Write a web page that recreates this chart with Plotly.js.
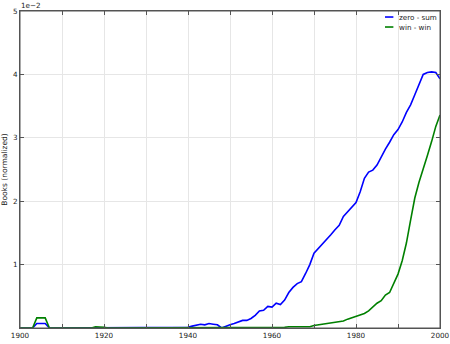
<!DOCTYPE html>
<html>
<head>
<meta charset="utf-8">
<script src="https://cdn.plot.ly/plotly-3.0.1.min.js"></script>
<style>html,body{margin:0;padding:0;background:#fff;}#chart{width:450px;height:344px;}</style>
</head>
<body>
<div id="chart"></div>
<script>
var years = [];
for (var y = 1900; y <= 2000; y++) years.push(y);

var seriesNames = ['zero - sum', 'win - win'];
var seriesColors = ['#0000ff', '#008000'];

// values in units of 1e-2
var zeroSum = [
  0, 0, 0, 0, 0.07, 0.07, 0.07, 0, 0, 0,            // 1900-1909
  0, 0.01, 0.01, 0.01, 0, 0, 0, 0, 0.01, 0.01,       // 1910-1919
  0.01, 0, 0, 0, 0, 0, 0, 0.01, 0.01, 0.01,          // 1920-1929
  0, 0, 0, 0, 0, 0, 0, 0.01, 0.01, 0.01,             // 1930-1939
  0.01, 0.03, 0.05, 0.06, 0.05, 0.07, 0.06, 0.05, 0.0, 0.03, // 1940-1949
  0.05, 0.07, 0.09, 0.12, 0.12, 0.15, 0.2, 0.27, 0.28, 0.34, // 1950-1959
  0.33, 0.39, 0.37, 0.44, 0.56, 0.64, 0.70, 0.73, 0.86, 1.0, // 1960-1969
  1.18, 1.25, 1.33, 1.40, 1.47, 1.55, 1.62, 1.76, 1.83, 1.90, // 1970-1979
  1.98, 2.15, 2.36, 2.46, 2.49, 2.57, 2.70, 2.82, 2.93, 3.05, // 1980-1989
  3.13, 3.25, 3.40, 3.52, 3.68, 3.84, 4.00, 4.03, 4.04, 4.03, // 1990-1999
  3.93                                                          // 2000
];

var winWin = [
  0, 0, 0, 0, 0.16, 0.16, 0.16, 0, 0, 0,             // 1900-1909
  0, 0, 0, 0, 0, 0, 0, 0, 0.02, 0.02,                // 1910-1919
  0.01, 0, 0, 0, 0, 0, 0, 0.01, 0.01, 0,             // 1920-1929
  0, 0, 0, 0, 0, 0, 0, 0, 0, 0,                      // 1930-1939
  0, 0, 0, 0, 0, 0, 0, 0, 0, 0,                      // 1940-1949
  0, 0, 0, 0, 0, 0, 0.01, 0.01, 0.01, 0.01,          // 1950-1959
  0.01, 0.01, 0.01, 0.01, 0.02, 0.02, 0.01, 0.01, 0.01, 0.02, // 1960-1969
  0.04, 0.05, 0.05, 0.06, 0.07, 0.08, 0.09, 0.11, 0.14, 0.16, // 1970-1979
  0.18, 0.20, 0.23, 0.27, 0.33, 0.39, 0.43, 0.52, 0.56, 0.70, // 1980-1989
  0.85, 1.06, 1.34, 1.70, 2.05, 2.30, 2.50, 2.72, 2.94, 3.18, // 1990-1999
  3.36                                                          // 2000
];

var xTickVals = [1900, 1910, 1920, 1930, 1940, 1950, 1960, 1970, 1980, 1990, 2000];
var xTickText = ['1900', '', '1920', '', '1940', '', '1960', '', '1980', '', '2000'];
var yTickVals = [1, 2, 3, 4, 5];
var yTickText = ['1', '2', '3', '4', '5'];

var traces = [
  {x: years, y: zeroSum, type: 'scatter', mode: 'lines', name: seriesNames[0],
   line: {color: seriesColors[0], width: 1.6}},
  {x: years, y: winWin, type: 'scatter', mode: 'lines', name: seriesNames[1],
   line: {color: seriesColors[1], width: 1.6}}
];

var font7 = {family: 'DejaVu Sans', size: 7.2, color: '#222'};
var fontTitle = {family: 'DejaVu Sans', size: 7.5, color: '#222'};

var axisCommon = {
  showline: true, linecolor: '#555', linewidth: 1, mirror: 'allticks',
  ticks: 'inside', ticklen: 4, tickcolor: '#555',
  gridcolor: '#e6e6e6', gridwidth: 1, zeroline: false,
  tickfont: font7, ticklabeloverflow: 'allow'
};

// legend drawn as key lines + labels (matplotlib-style compact legend)
var legendShapes = [];
var legendAnns = [];
var legY = [0.981, 0.9495];
for (var i = 0; i < seriesNames.length; i++) {
  legendShapes.push({type: 'line', xref: 'paper', yref: 'paper',
    x0: 0.869, x1: 0.889, y0: legY[i], y1: legY[i],
    line: {color: seriesColors[i], width: 1.6}});
  legendAnns.push({text: seriesNames[i], xref: 'paper', yref: 'paper',
    x: 0.9, y: legY[i], xanchor: 'left', yanchor: 'middle',
    showarrow: false, font: font7, borderpad: 0});
}

var layout = {
  width: 450, height: 344,
  margin: {l: 20, r: 10, t: 11, b: 16},
  paper_bgcolor: '#fff', plot_bgcolor: '#fff',
  showlegend: false,
  xaxis: Object.assign({}, axisCommon, {range: [1900, 2000], tickmode: 'array',
    tickvals: xTickVals, ticktext: xTickText}),
  yaxis: Object.assign({}, axisCommon, {range: [0, 5], tickmode: 'array',
    tickvals: yTickVals, ticktext: yTickText,
    title: {text: 'Books (normalized)', standoff: 5, font: fontTitle}}),
  shapes: [
    {type: 'rect', xref: 'paper', yref: 'paper', x0: 0, x1: 1, y0: 0, y1: 1,
     line: {color: '#555', width: 1}, fillcolor: 'rgba(0,0,0,0)', layer: 'above'}
  ].concat(legendShapes),
  annotations: [
    {text: '1e\u22122', xref: 'paper', yref: 'paper', x: 0, y: 1,
     xanchor: 'left', yanchor: 'bottom', showarrow: false, font: font7, borderpad: 0}
  ].concat(legendAnns)
};

Plotly.newPlot('chart', traces, layout, {displayModeBar: false, staticPlot: true});
</script>
</body>
</html>
